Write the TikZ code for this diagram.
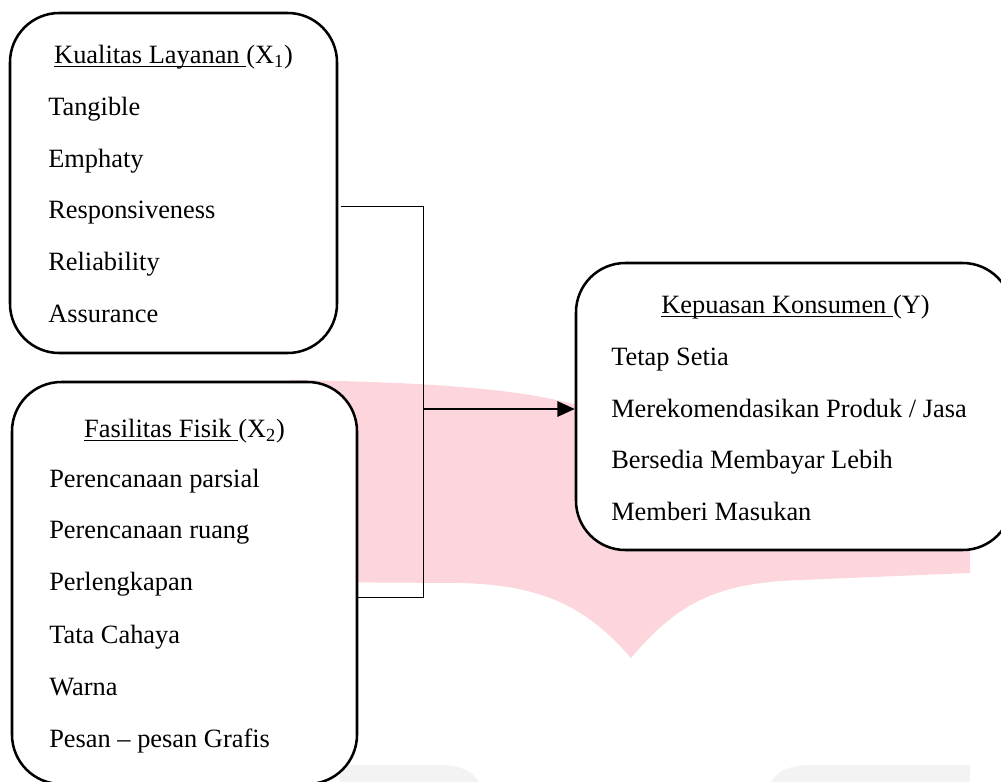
\documentclass[tikz,border=0pt]{standalone}
\usepackage{fontspec}
\setmainfont{Liberation Serif}
\usetikzlibrary{arrows.meta}
\newcommand{\ulx}[1]{\setbox0=\hbox{#1}\rlap{\rule[-0.17em]{\wd0}{0.06em}}\box0}
\definecolor{wmpink}{RGB}{252,214,220}
\definecolor{wmgray}{RGB}{243,243,243}
\tikzset{
  box/.style={draw=black, line width=1.9pt, fill=white, rounded corners=37pt, inner sep=0pt},
  txt/.style={inner sep=0pt, anchor=base west, font=\fontsize{19.8pt}{24pt}\selectfont},
  ttl/.style={inner sep=0pt, anchor=base, font=\fontsize{19.8pt}{24pt}\selectfont},
  bracket/.style={draw=black, line width=0.65pt},
  arrowline/.style={draw=black, line width=1.5pt, -{Triangle[length=13pt,width=11.5pt]}}
}
\begin{document}
\begin{tikzpicture}[x=0.75pt,y=-0.75pt]
\useasboundingbox (0,0) rectangle (1001,782);
% watermark
\fill[wmpink] (290,380) .. controls (420,382) and (520,388) .. (580,406) -- (970,440) -- (970,573)
  -- (800,580) .. controls (720,583) and (680,600) .. (631,658)
  .. controls (585,605) and (540,585) .. (460,583) -- (290,582) -- cycle;
\fill[wmgray] (340,765) -- (440,765) .. controls (462,765) and (476,772) .. (483,790) -- (340,790) -- cycle;
\fill[wmgray] (766,790) .. controls (774,772) and (788,765) .. (810,765) -- (970,765) -- (970,790) -- cycle;
% boxes
\node[box, minimum width=245.25pt, minimum height=255pt] (b1) at (173.5,183) {};
\node[box, minimum width=258.75pt, minimum height=301.5pt] (b2) at (184.5,583) {};
\node[box, minimum width=327pt, minimum height=215.25pt] (b3) at (794,406.5) {};
% box 1 text
\node[ttl] (t1) at (173.5,63) {\ulx{Kualitas Layanan }(X\textsubscript{1})};
\node[txt] (a1) at (48,115) {Tangible};
\node[txt] (a2) at (48,167) {Emphaty};
\node[txt] (a3) at (48,218) {Responsiveness};
\node[txt] (a4) at (48,270) {Reliability};
\node[txt] (a5) at (48,322) {Assurance};
% box 2 text
\node[ttl] (t2) at (184.5,437) {\ulx{Fasilitas Fisik }(X\textsubscript{2})};
\node[txt] (c1) at (49,487) {Perencanaan parsial};
\node[txt] (c2) at (49,538) {Perencanaan ruang};
\node[txt] (c3) at (49,590) {Perlengkapan};
\node[txt] (c4) at (49,643) {Tata Cahaya};
\node[txt] (c5) at (49,695) {Warna};
\node[txt] (c6) at (49,747) {Pesan -- pesan Grafis};
% box 3 text
\node[ttl] (t3) at (795.5,313) {\ulx{Kepuasan Konsumen }(Y)};
\node[txt] (d1) at (611,365) {Tetap Setia};
\node[txt] (d2) at (611,417) {Merekomendasikan Produk / Jasa};
\node[txt] (d3) at (611,468) {Bersedia Membayar Lebih};
\node[txt] (d4) at (611,520) {Memberi Masukan};
% connectors
\coordinate (jt) at (423,206);
\coordinate (jb) at (423,597);
\coordinate (jm) at (423,409);
\draw[bracket] ([xshift=2pt]b1.east |- jt) -- (jt) -- (jb) -- (b2.east |- jb);
\draw[arrowline] (jm) -- (b3.west |- jm);
\end{tikzpicture}
\end{document}
